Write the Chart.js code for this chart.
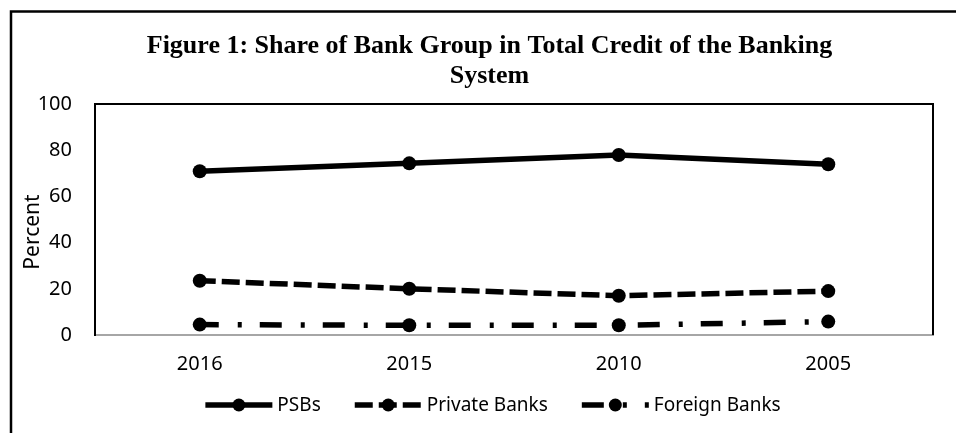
<!DOCTYPE html>
<html>
<head>
<meta charset="utf-8">
<script src="https://cdn.jsdelivr.net/npm/chart.js@4/dist/chart.umd.min.js"></script>
<style>
  html, body { margin: 0; padding: 0; background: #fff; overflow: hidden; }
  canvas { display: block; }
</style>
</head>
<body>
<canvas id="chart" width="956" height="433"></canvas>
<script>
// Share of each bank group in total banking-system credit (percent)
const years = ['2016', '2015', '2010', '2005'];
const psbs = [70.9, 74.3, 77.9, 73.9];
const privateBanks = [23.5, 20.0, 17.0, 19.0];
const foreignBanks = [4.5, 4.2, 4.2, 5.8];
const seriesNames = ['PSBs', 'Private Banks', 'Foreign Banks'];
const yTicks = [0, 20, 40, 60, 80, 100];
const titleLines = ['Figure 1: Share of Bank Group in Total Credit of the Banking', 'System'];
const yAxisTitle = 'Percent';

const SANS = '"Noto Sans", "Open Sans", sans-serif';
const SERIF = '"Liberation Serif", "DejaVu Serif", serif';

// Outer frame, title, axis title, top/right plot edges and the line-sample legend
const decorations = {
  id: 'decorations',
  beforeDraw(chart) {
    const ctx = chart.ctx;
    ctx.save();
    ctx.fillStyle = '#fff';
    ctx.fillRect(0, 0, chart.width, chart.height);
    ctx.restore();
  },
  afterDraw(chart) {
    const ctx = chart.ctx;
    const a = chart.chartArea;
    ctx.save();

    // figure frame (left and top edges visible)
    ctx.strokeStyle = '#000';
    ctx.lineWidth = 2.5;
    ctx.beginPath();
    ctx.moveTo(11, chart.height);
    ctx.lineTo(11, 11.5);
    ctx.lineTo(chart.width, 11.5);
    ctx.stroke();

    // plot area top and right edges
    ctx.lineWidth = 2;
    ctx.beginPath();
    ctx.moveTo(a.left, a.top);
    ctx.lineTo(a.right, a.top);
    ctx.lineTo(a.right, a.bottom);
    ctx.stroke();

    // title
    ctx.fillStyle = '#000';
    ctx.font = 'bold 26px ' + SERIF;
    ctx.textAlign = 'center';
    ctx.textBaseline = 'alphabetic';
    titleLines.forEach((t, i) => ctx.fillText(t, 489.5, 53 + i * 30));

    // vertical axis title
    ctx.save();
    ctx.translate(33, 232);
    ctx.rotate(-Math.PI / 2);
    ctx.font = '21px ' + SANS;
    ctx.textBaseline = 'middle';
    ctx.fillText(yAxisTitle, 0, 0);
    ctx.restore();

    // legend
    ctx.font = '19px ' + SANS;
    ctx.textBaseline = 'middle';
    ctx.textAlign = 'left';
    const sampleLen = 67, textGap = 5, itemGap = 34, ly = 405;
    const items = chart.data.datasets.map(ds => ({ ds, w: ctx.measureText(ds.label).width }));
    const total = items.reduce((s, it) => s + sampleLen + textGap + it.w, 0) + itemGap * (items.length - 1);
    let x = 493 - total / 2;
    items.forEach(({ ds, w }) => {
      ctx.strokeStyle = ds.borderColor;
      ctx.lineWidth = ds.borderWidth;
      ctx.setLineDash(ds.borderDash || []);
      ctx.lineDashOffset = 0;
      ctx.beginPath();
      ctx.moveTo(x, ly);
      ctx.lineTo(x + sampleLen, ly);
      ctx.stroke();
      ctx.setLineDash([]);
      ctx.fillStyle = ds.pointBackgroundColor;
      ctx.beginPath();
      ctx.arc(x + sampleLen / 2, ly, ds.pointRadius - 0.5, 0, Math.PI * 2);
      ctx.fill();
      ctx.fillStyle = '#000';
      ctx.fillText(ds.label, x + sampleLen + textGap, ly + 1);
      x += sampleLen + textGap + w + itemGap;
    });
    ctx.restore();
  }
};

const lineStyle = (label, data, dash, dashOffset) => ({
  label,
  data,
  borderColor: '#000',
  backgroundColor: '#000',
  pointBackgroundColor: '#000',
  pointBorderColor: '#000',
  borderWidth: 5.5,
  borderDash: dash,
  borderDashOffset: dashOffset,
  borderCapStyle: 'butt',
  pointRadius: 7,
  pointBorderWidth: 0,
  tension: 0,
  fill: false
});

new Chart(document.getElementById('chart'), {
  type: 'line',
  data: {
    labels: years,
    datasets: [
      lineStyle(seriesNames[0], psbs, [], 0),
      lineStyle(seriesNames[1], privateBanks, [18, 6], 2),
      lineStyle(seriesNames[2], foreignBanks, [22, 19, 4, 18], 3)
    ]
  },
  options: {
    responsive: false,
    animation: false,
    devicePixelRatio: 1,
    layout: { padding: { top: 104, right: 23, bottom: 0, left: 0 } },
    plugins: {
      legend: { display: false },
      title: { display: false },
      tooltip: { enabled: false }
    },
    scales: {
      x: {
        offset: true,
        grid: { display: false, drawTicks: false },
        border: { display: true, color: '#a6a6a6', width: 2 },
        ticks: { color: '#000', font: { family: SANS, size: 20 }, padding: 17, maxRotation: 0 },
        afterFit(scale) { scale.height = 98; }
      },
      y: {
        min: 0,
        max: 100,
        afterBuildTicks(scale) { scale.ticks = yTicks.map(v => ({ value: v })); },
        grid: { display: false, drawTicks: false },
        border: { display: true, color: '#000', width: 2 },
        ticks: { color: '#000', font: { family: SANS, size: 20 }, padding: 23 },
        afterFit(scale) { scale.width = 95; }
      }
    }
  },
  plugins: [decorations]
});
</script>
</body>
</html>
